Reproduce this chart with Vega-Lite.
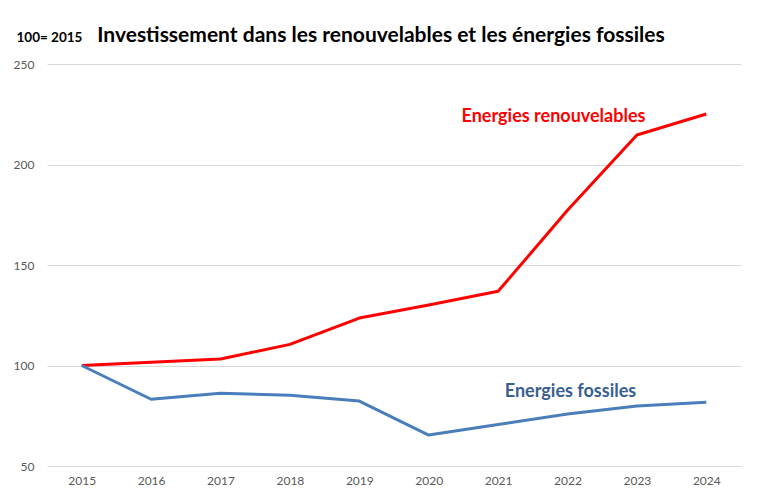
{
  "$schema": "https://vega.github.io/schema/vega-lite/v6.json",
  "description": "Investissement dans les renouvelables et les energies fossiles, base 100 en 2015",
  "width": 694,
  "height": 402,
  "autosize": "none",
  "padding": {"left": 47, "top": 64, "right": 21, "bottom": 36},
  "background": "white",
  "config": {"view": {"stroke": null}, "font": "Lato"},
  "title": {
    "text": "Investissement dans les renouvelables et les énergies fossiles",
    "fontSize": 21,
    "fontWeight": "bold",
    "color": "#000000",
    "anchor": "middle",
    "dx": -13,
    "offset": -16
  },
  "datasets": {
    "series": [
      {"year": "2015", "serie": "Energies renouvelables", "value": 100},
      {"year": "2016", "serie": "Energies renouvelables", "value": 101.6},
      {"year": "2017", "serie": "Energies renouvelables", "value": 103.2},
      {"year": "2018", "serie": "Energies renouvelables", "value": 110.5},
      {"year": "2019", "serie": "Energies renouvelables", "value": 123.6},
      {"year": "2020", "serie": "Energies renouvelables", "value": 130.1},
      {"year": "2021", "serie": "Energies renouvelables", "value": 136.9},
      {"year": "2022", "serie": "Energies renouvelables", "value": 177.2},
      {"year": "2023", "serie": "Energies renouvelables", "value": 214.7},
      {"year": "2024", "serie": "Energies renouvelables", "value": 225.1},
      {"year": "2015", "serie": "Energies fossiles", "value": 100},
      {"year": "2016", "serie": "Energies fossiles", "value": 83.2},
      {"year": "2017", "serie": "Energies fossiles", "value": 86.2},
      {"year": "2018", "serie": "Energies fossiles", "value": 85.2},
      {"year": "2019", "serie": "Energies fossiles", "value": 82.3},
      {"year": "2020", "serie": "Energies fossiles", "value": 65.4},
      {"year": "2021", "serie": "Energies fossiles", "value": 70.6},
      {"year": "2022", "serie": "Energies fossiles", "value": 75.9},
      {"year": "2023", "serie": "Energies fossiles", "value": 79.9},
      {"year": "2024", "serie": "Energies fossiles", "value": 81.7}
    ],
    "labels": [
      {"year": "2022", "serie": "Energies renouvelables", "value": 221},
      {"year": "2022", "serie": "Energies fossiles", "value": 84.5}
    ]
  },
  "layer": [
    {
      "data": {"name": "series"},
      "mark": {"type": "line", "strokeWidth": 3, "strokeJoin": "round"},
      "encoding": {
        "x": {
          "field": "year",
          "type": "ordinal",
          "scale": {"type": "point", "padding": 0.5},
          "axis": {
            "title": null,
            "labelAngle": 0,
            "ticks": false,
            "domain": false,
            "labelColor": "#595959",
            "labelFontSize": 12,
            "labelPadding": 9
          }
        },
        "y": {
          "field": "value",
          "type": "quantitative",
          "scale": {"domain": [50, 250], "nice": false, "zero": false},
          "axis": {
            "values": [50, 100, 150, 200, 250],
            "ticks": false,
            "domain": false,
            "gridColor": "#d9d9d9",
            "labelColor": "#595959",
            "labelFontSize": 12,
            "labelPadding": 13,
            "title": "100= 2015",
            "titleAngle": 0,
            "titleAlign": "left",
            "titleBaseline": "alphabetic",
            "titleX": -31,
            "titleY": -23,
            "titleFontSize": 13.5,
            "titleFontWeight": "bold",
            "titleColor": "#000000"
          }
        },
        "color": {
          "field": "serie",
          "type": "nominal",
          "scale": {
            "domain": ["Energies renouvelables", "Energies fossiles"],
            "range": ["#ff0000", "#4a7ebb"]
          },
          "legend": null
        }
      }
    },
    {
      "data": {"name": "labels"},
      "transform": [{"filter": "datum.serie == 'Energies renouvelables'"}],
      "mark": {
        "type": "text",
        "fontSize": 18,
        "fontWeight": "bold",
        "color": "#ff0000",
        "align": "center",
        "baseline": "alphabetic",
        "dx": -14
      },
      "encoding": {
        "x": {"field": "year", "type": "ordinal"},
        "y": {"field": "value", "type": "quantitative"},
        "text": {"field": "serie"}
      }
    },
    {
      "data": {"name": "labels"},
      "transform": [{"filter": "datum.serie == 'Energies fossiles'"}],
      "mark": {
        "type": "text",
        "fontSize": 18,
        "fontWeight": "bold",
        "color": "#376092",
        "align": "center",
        "baseline": "alphabetic",
        "dx": 3
      },
      "encoding": {
        "x": {"field": "year", "type": "ordinal"},
        "y": {"field": "value", "type": "quantitative"},
        "text": {"field": "serie"}
      }
    }
  ]
}
